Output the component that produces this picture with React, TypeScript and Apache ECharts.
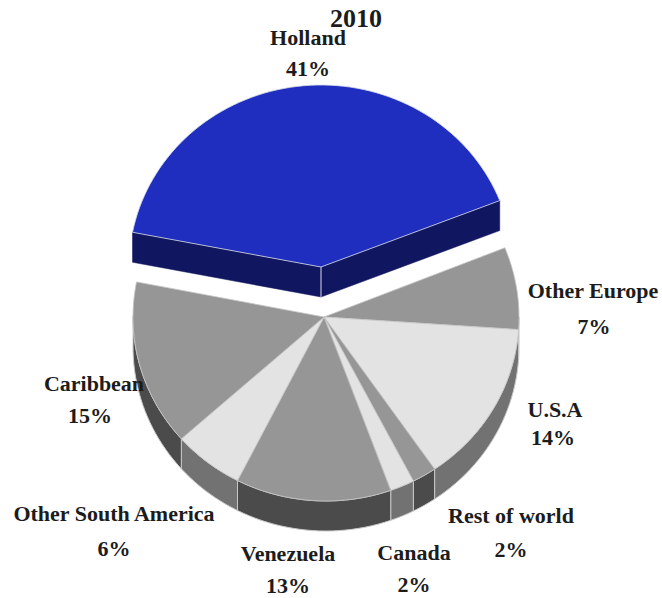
import React, { useEffect, useRef } from "react";
import * as echarts from "echarts";

const titleText = "2010";
const categories = ["Holland", "Other Europe", "U.S.A", "Rest of world", "Canada", "Venezuela", "Other South America", "Caribbean"];
const shares = [41, 7, 14, 2, 2, 13, 6, 15];
const topColors = ["#1F2EBE", "#969696", "#E3E3E3", "#969696", "#E3E3E3", "#969696", "#E3E3E3", "#969696"];
const sideColors = ["#10165F", "#4B4B4B", "#727272", "#4B4B4B", "#727272", "#4B4B4B", "#727272", "#4B4B4B"];

// layout
const START_DEG = -79;
const APEX: [number, number] = [324, 317];
const RIM_CENTER: [number, number] = [326, 317];
const EXPLODED_CENTER: [number, number] = [321, 267];
const RX = 193;
const RY = 184;
const EXPLODED_RX = 192;
const EXPLODED_RY = 182;
const DEPTH = 30;
const labelNameAt: [number, number][] = [[308, 38], [593, 291], [555, 410], [511, 516], [414, 553], [288, 554], [114, 514], [94, 384]];
const labelPctAt: [number, number][] = [[308, 69], [594, 327], [553, 438], [511, 550], [414, 585], [288, 586], [114, 549], [90, 416]];

const total = shares.reduce((a, b) => a + b, 0);

// the lower body is seen slightly from one side: a small perspective twist of the rim
const twist = (deg: number) => deg + 2 * Math.sin((Math.PI * (deg - 90)) / 191);

const lowerPoint = (deg: number, dy = 0): [number, number] => {
  const r = (twist(deg) * Math.PI) / 180;
  return [RIM_CENTER[0] + RX * Math.sin(r), RIM_CENTER[1] - RY * Math.cos(r) + dy];
};
const upperPoint = (deg: number): [number, number] => {
  const r = (deg * Math.PI) / 180;
  return [EXPLODED_CENTER[0] + EXPLODED_RX * Math.sin(r), EXPLODED_CENTER[1] - EXPLODED_RY * Math.cos(r)];
};
const sweep = (f: (d: number) => [number, number], a: number, b: number) => {
  const n = Math.max(2, Math.ceil((b - a) / 2));
  const pts: [number, number][] = [];
  for (let i = 0; i <= n; i++) pts.push(f(a + ((b - a) * i) / n));
  return pts;
};

const renderItem = (params: any, api: any) => {
  const idx = params.dataIndex;
  let before = 0;
  for (let i = 0; i < idx; i++) before += shares[i];
  const a = START_DEG + (before / total) * 360;
  const b = a + (api.value(0) / total) * 360;
  const exploded = idx === 0;
  const children: any[] = [];
  const lightLine = "#D8DCE8";
  if (exploded) {
    const c = EXPLODED_CENTER;
    const pa = upperPoint(a);
    const pb = upperPoint(b);
    const faces = [[pa, c], [c, pb]];
    faces.forEach(([p, q]) => {
      children.push({
        type: "polygon",
        shape: { points: [p, q, [q[0], q[1] + DEPTH], [p[0], p[1] + DEPTH]] },
        style: { fill: sideColors[idx], stroke: sideColors[idx], lineWidth: 0.5 },
      });
    });
    children.push({
      type: "line",
      shape: { x1: c[0], y1: c[1], x2: c[0], y2: c[1] + DEPTH },
      style: { stroke: lightLine, lineWidth: 1 },
    });
    children.push({
      type: "polygon",
      shape: { points: [c, ...sweep(upperPoint, a, b)] },
      style: { fill: topColors[idx], stroke: lightLine, lineWidth: 0.8 },
    });
  } else {
    const sa = Math.max(a, 90);
    const sb = Math.min(b, 270);
    if (sb > sa) {
      const top = sweep((d) => lowerPoint(d), sa, sb);
      const bottom = sweep((d) => lowerPoint(d, DEPTH), sa, sb).reverse();
      children.push({
        type: "polygon",
        shape: { points: [...top, ...bottom] },
        style: { fill: sideColors[idx], stroke: "#C8C8C8", lineWidth: 1 },
      });
    }
    children.push({
      type: "polygon",
      shape: { points: [APEX, ...sweep((d) => lowerPoint(d), a, b)] },
      style: { fill: topColors[idx], stroke: "#C4C4C4", lineWidth: 0.8 },
    });
  }
  return { type: "group", children };
};

const textStyleBase = { fill: "#1c1c1c", fontFamily: "'Liberation Serif', serif", fontWeight: "bold" };

export default function App() {
  const ref = useRef<HTMLDivElement>(null);
  useEffect(() => {
    const chart = echarts.init(ref.current!, undefined, { renderer: "svg" });
    const labels: any[] = [];
    categories.forEach((name, i) => {
      labels.push({
        type: "text",
        x: labelNameAt[i][0],
        y: labelNameAt[i][1],
        scaleX: 1.1,
        z: 10,
        style: { ...textStyleBase, text: name, fontSize: 20, textAlign: "center", textVerticalAlign: "middle" },
      });
      labels.push({
        type: "text",
        x: labelPctAt[i][0],
        y: labelPctAt[i][1],
        scaleX: 1.1,
        z: 10,
        style: { ...textStyleBase, text: `${shares[i]}%`, fontSize: 20, textAlign: "center", textVerticalAlign: "middle" },
      });
    });
    chart.setOption({
      animation: false,
      backgroundColor: "#ffffff",
      title: {
        text: titleText,
        left: 356,
        top: 5,
        padding: 0,
        textAlign: "center",
        textStyle: { color: "#1c1c1c", fontFamily: "'Liberation Serif', serif", fontWeight: "bold", fontSize: 26 },
      },
      series: [
        {
          type: "custom",
          coordinateSystem: "none",
          renderItem,
          silent: true,
          data: shares.map((v, i) => ({ name: categories[i], value: [v] })),
        },
      ],
      graphic: { elements: labels },
    });
    return () => chart.dispose();
  }, []);
  return <div ref={ref} style={{ position: "absolute", left: 0, top: 0, width: 662, height: 598 }} />;
}
